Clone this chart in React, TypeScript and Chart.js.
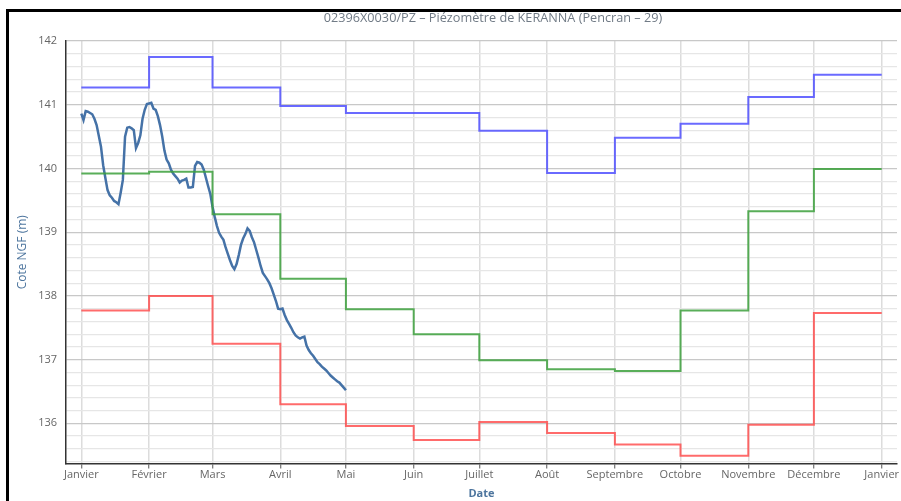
import React, { useEffect, useRef } from "react";
import { Chart, registerables } from "chart.js";

Chart.register(...registerables);

const TITLE = "02396X0030/PZ – Piézomètre de KERANNA (Pencran – 29)";
const FONT = "'Open Sans', 'DejaVu Sans', sans-serif";

// Month boundaries (day of year, leap year) and their labels
const monthLabels = [
  "Janvier", "Février", "Mars", "Avril", "Mai", "Juin", "Juillet",
  "Août", "Septembre", "Octobre", "Novembre", "Décembre", "Janvier",
];
const monthStartDays = [0, 31, 60, 91, 121, 152, 182, 213, 244, 274, 305, 335, 366];

// Monthly statistics of the water level (m NGF)
const maxLevels = [141.27, 141.75, 141.27, 140.98, 140.87, 140.87, 140.59, 139.93, 140.48, 140.70, 141.12, 141.47];
const meanLevels = [139.92, 139.95, 139.28, 138.27, 137.79, 137.40, 136.99, 136.85, 136.82, 137.77, 139.33, 139.99];
const minLevels = [137.77, 138.00, 137.25, 136.30, 135.96, 135.74, 136.02, 135.85, 135.67, 135.49, 135.98, 137.73];

// Measured levels of the current year (day of year, m NGF)
const obsDays = [
  0, 1, 2, 3, 5, 6, 7, 9, 10, 11, 12, 13, 14, 15, 16, 17, 18, 19, 20, 21,
  22, 23, 24, 25, 26, 27, 28, 29, 30, 31, 32, 33, 34, 35, 36, 37, 38, 39, 40, 41,
  42, 43, 44, 45, 46, 47, 48, 49, 50, 51, 52, 53, 54, 55, 56, 57, 58, 59, 60, 61,
  62, 63, 64, 65, 66, 67, 68, 69, 70, 71, 72, 73, 74, 75, 76, 77, 78, 79, 80, 81,
  82, 83, 84, 85, 86, 87, 88, 89, 90, 91, 92, 93, 94, 95, 96, 97, 98, 99, 100, 101,
  102, 103, 104, 105, 106, 107, 108, 109, 110, 111, 112, 113, 114, 115, 116, 117, 118, 119, 120, 121,
];
const obsLevels = [
  140.86, 140.76, 140.90, 140.89, 140.85, 140.78, 140.68, 140.34, 140.05, 139.85,
  139.66, 139.58, 139.54, 139.49, 139.47, 139.44, 139.62, 139.82, 140.50, 140.64,
  140.65, 140.63, 140.60, 140.32, 140.40, 140.52, 140.78, 140.92, 141.01, 141.02,
  141.03, 140.94, 140.92, 140.82, 140.68, 140.50, 140.28, 140.14, 140.08, 139.98,
  139.92, 139.88, 139.84, 139.78, 139.81, 139.82, 139.84, 139.70, 139.70, 139.71,
  140.04, 140.10, 140.09, 140.06, 139.98, 139.85, 139.72, 139.60, 139.40, 139.24,
  139.10, 138.99, 138.93, 138.88, 138.76, 138.66, 138.56, 138.47, 138.42, 138.50,
  138.64, 138.80, 138.90, 138.97, 139.06, 139.02, 138.92, 138.84, 138.72, 138.60,
  138.47, 138.36, 138.31, 138.26, 138.20, 138.12, 138.02, 137.92, 137.80, 137.79,
  137.80, 137.70, 137.62, 137.56, 137.50, 137.43, 137.38, 137.35, 137.33, 137.35,
  137.36, 137.22, 137.15, 137.10, 137.06, 137.01, 136.96, 136.93, 136.89, 136.86,
  136.83, 136.79, 136.75, 136.72, 136.69, 136.66, 136.64, 136.60, 136.56, 136.52,
];

// Each month's value holds from its first day until the next month starts
const stepPoints = (levels: number[]) =>
  monthStartDays.map((d, i) => ({ x: d, y: levels[Math.min(i, levels.length - 1)] }));

const isInteger = (v: number) => Math.abs(v - Math.round(v)) < 1e-6;

const framePlugin = {
  id: "frameAndTitle",
  afterDraw(chart: any) {
    const ctx = chart.ctx;
    ctx.save();
    ctx.fillStyle = "#000";
    ctx.fillRect(6, 9, 3, chart.height - 9);
    ctx.fillRect(6, 9, chart.width - 6, 3);
    ctx.fillStyle = "#717b86";
    ctx.font = `12.7px ${FONT}`;
    ctx.textAlign = "center";
    ctx.textBaseline = "alphabetic";
    ctx.fillText(TITLE, 493, 22);
    ctx.restore();
  },
};

export default function App() {
  const canvasRef = useRef<HTMLCanvasElement | null>(null);

  useEffect(() => {
    if (!canvasRef.current) return;
    const chart = new Chart(canvasRef.current, {
      type: "line",
      data: {
        datasets: [
          {
            label: "Maximum",
            data: stepPoints(maxLevels),
            borderColor: "rgba(80,80,255,0.85)",
            borderWidth: 2,
            stepped: "before",
            pointRadius: 0,
            fill: false,
          },
          {
            label: "Moyenne",
            data: stepPoints(meanLevels),
            borderColor: "rgba(60,160,60,0.85)",
            borderWidth: 2,
            stepped: "before",
            pointRadius: 0,
            fill: false,
          },
          {
            label: "Minimum",
            data: stepPoints(minLevels),
            borderColor: "rgba(255,70,70,0.8)",
            borderWidth: 2,
            stepped: "before",
            pointRadius: 0,
            fill: false,
          },
          {
            label: "Niveau",
            data: obsDays.map((d, i) => ({ x: d, y: obsLevels[i] })),
            borderColor: "#4572A7",
            borderWidth: 2.5,
            pointRadius: 0,
            tension: 0,
            fill: false,
          },
        ],
      },
      options: {
        animation: false,
        responsive: false,
        maintainAspectRatio: false,
        layout: { padding: { top: 41, right: 4, bottom: 0, left: 0 } },
        plugins: {
          legend: { display: false },
          tooltip: { enabled: false },
          title: { display: false },
        },
        scales: {
          x: {
            type: "linear",
            min: -7,
            max: 373,
            afterFit(scale: any) {
              scale.height = 37.5;
            },
            afterBuildTicks(scale: any) {
              scale.ticks = monthStartDays.map((v) => ({ value: v }));
            },
            ticks: {
              autoSkip: false,
              maxRotation: 0,
              padding: 0,
              color: "#666",
              font: { family: FONT, size: 11 },
              callback(_v: any, i: number) {
                return monthLabels[i];
              },
            },
            grid: {
              color: "#dcdcdc",
              lineWidth: 1.5,
              tickColor: "#555",
              tickLength: 5,
              tickWidth: 1,
            },
            border: { color: "#333", width: 1.5 },
            title: {
              display: true,
              text: "Date",
              color: "#4d759e",
              font: { family: FONT, size: 11, weight: "bold" },
              padding: { top: 0, bottom: 1 },
            },
          },
          y: {
            type: "linear",
            min: 135.37,
            max: 142,
            afterFit(scale: any) {
              scale.width = 66;
            },
            afterBuildTicks(scale: any) {
              const t = [];
              for (let k = 677; k <= 710; k++) t.push({ value: k / 5 });
              scale.ticks = t;
            },
            ticks: {
              autoSkip: false,
              padding: 9,
              color: "#666",
              font: { family: FONT, size: 11 },
              callback(v: any) {
                return isInteger(Number(v)) ? String(Math.round(Number(v))) : "";
              },
            },
            grid: {
              drawTicks: false,
              lineWidth: 1.2,
              color(ctx: any) {
                return ctx.tick && isInteger(ctx.tick.value) ? "#c8c8c8" : "#e6e6e6";
              },
            },
            border: { color: "#333", width: 1.5 },
            title: {
              display: true,
              text: "Cote NGF (m)",
              color: "#4d759e",
              font: { family: FONT, size: 12 },
              padding: { top: 15, bottom: 0 },
            },
          },
        },
      },
      plugins: [framePlugin],
    });
    return () => chart.destroy();
  }, []);

  return (
    <div style={{ position: "fixed", left: 0, top: 0, width: 901, height: 501, background: "#fff" }}>
      <canvas ref={canvasRef} width={901} height={501} style={{ width: 901, height: 501 }} />
    </div>
  );
}
